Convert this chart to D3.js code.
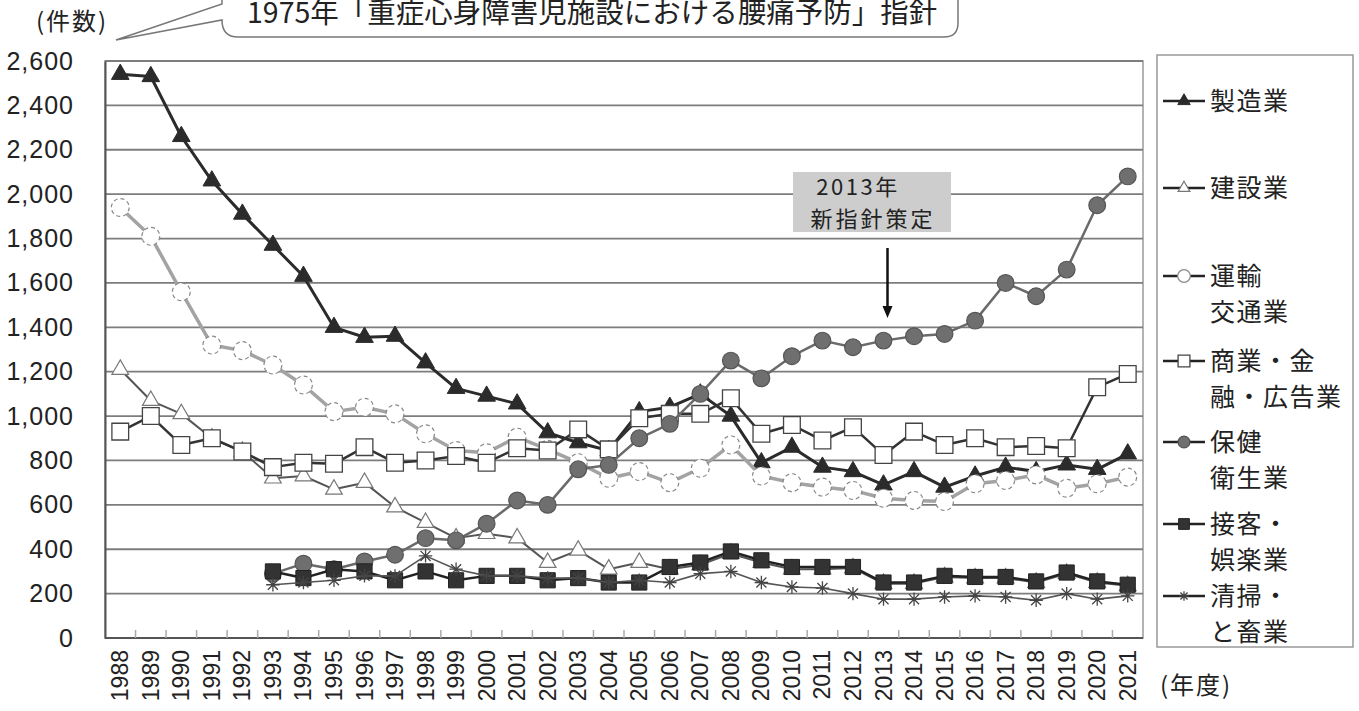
<!DOCTYPE html>
<html>
<head>
<meta charset="utf-8">
<script src="https://cdn.jsdelivr.net/npm/d3@7"></script>
<style>
  body { margin: 0; background: #fff; }
  svg text { font-family: "Liberation Sans", Arial, "Noto Sans CJK JP", sans-serif; fill: #222; }
  .jp { font-family: "Noto Sans CJK JP", sans-serif; }
</style>
</head>
<body>
<svg id="chart" width="1359" height="711"></svg>
<script>
// Fiscal years (年度)
const years = ["1988","1989","1990","1991","1992","1993","1994","1995","1996","1997",
  "1998","1999","2000","2001","2002","2003","2004","2005","2006","2007","2008","2009",
  "2010","2011","2012","2013","2014","2015","2016","2017","2018","2019","2020","2021"];

// Cases of work-related low back pain by industry (件数)
const manufacturing = [2540,2530,2260,2060,1910,1770,1630,1400,1355,1360,1240,1125,1090,1055,925,880,845,1020,1040,1100,1000,790,860,770,750,690,750,680,730,770,750,780,760,830];
const construction  = [1210,1070,1010,900,840,720,730,670,700,590,520,450,470,450,340,395,310,340,310,330,380,340,310,310,315,245,245,275,270,270,250,290,250,235];
const transport     = [1940,1810,1560,1320,1295,1230,1140,1020,1040,1010,920,845,835,905,850,790,720,750,700,765,870,730,700,680,665,630,620,615,695,710,735,675,695,725];
const commerce      = [930,1000,870,900,840,770,790,785,860,790,800,820,790,855,845,940,850,990,1010,1010,1080,920,960,890,950,825,930,870,900,860,865,855,1130,1190];
const health        = [null,null,null,null,null,290,335,310,345,375,450,440,515,620,600,760,780,900,965,1100,1250,1170,1270,1340,1310,1340,1360,1370,1430,1600,1540,1660,1950,2080];
const hospitality   = [null,null,null,null,null,300,270,310,300,260,300,260,280,280,260,270,250,250,320,340,390,350,320,320,320,250,250,280,275,275,255,295,255,240];
const cleaning      = [null,null,null,null,null,240,250,260,280,280,370,310,280,280,270,270,250,260,250,290,300,250,230,225,200,175,175,185,190,185,170,200,175,190];

const yTicks = [0,200,400,600,800,1000,1200,1400,1600,1800,2000,2200,2400,2600];

// Custom asterisk marker: vertical, horizontal and two diagonal strokes
const asteriskSymbol = {
  draw(ctx, size) {
    const r = Math.sqrt(size) / 2;
    const d = r * 0.75;
    ctx.moveTo(0, -r); ctx.lineTo(0, r);
    ctx.moveTo(-r, 0); ctx.lineTo(r, 0);
    ctx.moveTo(-d, -d); ctx.lineTo(d, d);
    ctx.moveTo(-d, d); ctx.lineTo(d, -d);
  }
};

const series = [
  { name: ["製造業"], values: manufacturing, line: "#2b2b2b", lw: 3,
    sym: d3.symbolTriangle, size: 135, fill: "#2b2b2b", stroke: "#2b2b2b", sw: 1 },
  { name: ["建設業"], values: construction, line: "#555", lw: 2,
    sym: d3.symbolTriangle, size: 120, fill: "#fff", stroke: "#777", sw: 1.2 },
  { name: ["運輸", "交通業"], values: transport, line: "#a3a3a3", lw: 3.5,
    sym: d3.symbolCircle, size: 250, fill: "#fff", stroke: "#888", sw: 1.2, dash: "4,3" },
  { name: ["商業・金", "融・広告業"], values: commerce, line: "#333", lw: 2.5,
    sym: d3.symbolSquare, size: 280, fill: "#fff", stroke: "#444", sw: 1.3 },
  { name: ["保健", "衛生業"], values: health, line: "#6a6a6a", lw: 2.5,
    sym: d3.symbolCircle, size: 220, fill: "#6f6f6f", stroke: "#555", sw: 1.2 },
  { name: ["接客・", "娯楽業"], values: hospitality, line: "#222", lw: 2.5,
    sym: d3.symbolSquare, size: 230, fill: "#333", stroke: "#222", sw: 1 },
  { name: ["清掃・", "と畜業"], values: cleaning, line: "#555", lw: 1.6,
    sym: asteriskSymbol, size: 180, fill: "none", stroke: "#444", sw: 1.3 }
];

const svg = d3.select("#chart");
const plot = { left: 105, right: 1143, top: 61, bottom: 638 };

const x = d3.scaleBand().domain(years).range([plot.left, plot.right]).padding(0);
const cx = d => x(d) + x.bandwidth() / 2;
const y = d3.scaleLinear().domain([0, 2600]).range([plot.bottom, plot.top]);

// Plot area frame
svg.append("rect")
  .attr("x", plot.left).attr("y", plot.top)
  .attr("width", plot.right - plot.left).attr("height", plot.bottom - plot.top)
  .attr("fill", "#fff").attr("stroke", "#9a9a9a").attr("stroke-width", 1.5);

// Horizontal gridlines
svg.append("g")
  .selectAll("line").data(yTicks.filter(t => t > 0)).join("line")
  .attr("x1", plot.left).attr("x2", plot.right)
  .attr("y1", d => y(d)).attr("y2", d => y(d))
  .attr("stroke", "#7d7d7d").attr("stroke-width", 1.8);

// Y axis
const yAxis = d3.axisLeft(y).tickValues(yTicks).tickFormat(d3.format(",")).tickSize(0).tickPadding(31);
const gy = svg.append("g").attr("transform", `translate(${plot.left},0)`).call(yAxis);
gy.select(".domain").attr("stroke", "#555").attr("stroke-width", 2);
gy.selectAll("text").attr("font-size", 25).attr("letter-spacing", 1).attr("fill", "#1a1a1a");

// X axis: ticks at category boundaries pointing into the plot
const gx = svg.append("g").attr("transform", `translate(0,${plot.bottom})`);
gx.append("line").attr("x1", plot.left).attr("x2", plot.right)
  .attr("stroke", "#555").attr("stroke-width", 2);
gx.selectAll("line.tick").data(years.slice(1)).join("line").attr("class", "tick")
  .attr("x1", d => x(d)).attr("x2", d => x(d)).attr("y1", 0).attr("y2", -8)
  .attr("stroke", "#aaa").attr("stroke-width", 1.5);
gx.selectAll("text").data(years).join("text")
  .attr("transform", d => `translate(${cx(d) + 8},12) rotate(-90)`)
  .attr("text-anchor", "end").attr("font-size", 23).attr("fill", "#222")
  .text(d => d);

// Series lines and markers
const lineGen = d3.line().defined(d => d.v != null).x(d => cx(d.year)).y(d => y(d.v));
series.forEach(s => {
  const pts = years.map((yr, i) => ({ year: yr, v: s.values[i] }));
  const g = svg.append("g");
  g.append("path").datum(pts).attr("d", lineGen)
    .attr("fill", "none").attr("stroke", s.line).attr("stroke-width", s.lw)
    .attr("stroke-linejoin", "round");
  g.selectAll("path.m").data(pts.filter(p => p.v != null)).join("path").attr("class", "m")
    .attr("d", d3.symbol().type(s.sym).size(s.size))
    .attr("transform", d => `translate(${cx(d.year)},${y(d.v)})`)
    .attr("fill", s.fill).attr("stroke", s.stroke).attr("stroke-width", s.sw)
    .attr("stroke-dasharray", s.dash || null);
});

// Axis titles
svg.append("text").attr("class", "jp").attr("x", 36).attr("y", 30).attr("font-size", 24)
  .attr("letter-spacing", 2).text("(件数)");
svg.append("text").attr("class", "jp").attr("x", 1160).attr("y", 694).attr("font-size", 24)
  .attr("letter-spacing", 2).text("(年度)");

// Guideline callout at the top with its pointer
svg.append("path")
  .attr("d", "M222,-20 L222,4 L116,40 L222,20 Q222,37 238,37 L944,37 Q958,37 958,23 L958,-20")
  .attr("fill", "#fff").attr("stroke", "#777").attr("stroke-width", 1.5);
svg.append("text").attr("class", "jp").attr("x", 247).attr("y", 23).attr("font-size", 28.5)
  .attr("fill", "#333").text("1975年「重症心身障害児施設における腰痛予防」指針");

// 2013 annotation box with arrow
const noteYear = "2013";
svg.append("rect").attr("x", 793).attr("y", 172).attr("width", 158).attr("height", 60)
  .attr("fill", "#cdcdcd");
const note = svg.append("text").attr("class", "jp").attr("font-size", 22).attr("fill", "#444");
note.append("tspan").attr("x", 858).attr("y", 195).attr("text-anchor", "middle")
  .attr("letter-spacing", 2.5).text(noteYear + "年");
note.append("tspan").attr("x", 873).attr("y", 227).attr("text-anchor", "middle")
  .attr("letter-spacing", 3).text("新指針策定");
const ax = cx(noteYear) + 4;
svg.append("line").attr("x1", ax).attr("x2", ax).attr("y1", 248).attr("y2", 308)
  .attr("stroke", "#111").attr("stroke-width", 2.5);
svg.append("path").attr("d", `M${ax - 5},306 L${ax + 5},306 L${ax},318 Z`).attr("fill", "#111");

// Legend
const lg = svg.append("g");
lg.append("rect").attr("x", 1157).attr("y", 55).attr("width", 196).attr("height", 592)
  .attr("fill", "#fff").attr("stroke", "#999").attr("stroke-width", 1.5);
const legendY = [101, 188, 276, 361, 442, 524, 596];
series.forEach((s, i) => {
  const ly = legendY[i];
  lg.append("line").attr("x1", 1163).attr("x2", 1205).attr("y1", ly).attr("y2", ly)
    .attr("stroke", "#222").attr("stroke-width", 2.5);
  lg.append("path").attr("d", d3.symbol().type(s.sym).size(s.size * 0.5))
    .attr("transform", `translate(1184,${ly})`)
    .attr("fill", s.fill).attr("stroke", s.stroke).attr("stroke-width", s.sw);
  const t = lg.append("text").attr("class", "jp").attr("font-size", 25)
    .attr("letter-spacing", 1.5).attr("fill", "#222");
  s.name.forEach((line, j) => {
    t.append("tspan").attr("x", 1210).attr("y", ly + 9 + j * 36).text(line);
  });
});
</script>
</body>
</html>
